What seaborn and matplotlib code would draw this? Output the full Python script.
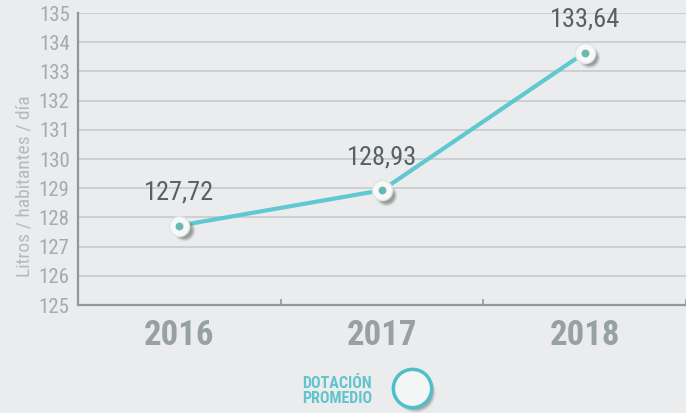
import numpy as np
import pandas as pd
import seaborn as sns
import matplotlib.pyplot as plt

years = ['2016', '2017', '2018']
dotacion = [127.72, 128.93, 133.64]
labels = ['127,72', '128,93', '133,64']
y_ticks = list(range(125, 136))

bg = '#ebecee'
teal = '#5fc8d0'

sns.set_theme(style='white')
plt.rcParams['font.family'] = ['Roboto Condensed', 'Liberation Sans Narrow', 'Roboto', 'DejaVu Sans']

df = pd.DataFrame({'year': years, 'value': dotacion, 'x': range(len(years))})

fig = plt.figure(figsize=(6.86, 4.13), dpi=100, facecolor=bg)
ax = fig.add_axes([0.1137, 0.2615, 0.8863, 0.707])
ax.set_facecolor(bg)

for y in y_ticks[1:]:
    ax.axhline(y, color='#c9cdcf', lw=1.3, zorder=0)

sns.lineplot(data=df, x='x', y='value', ax=ax, color=teal, lw=3, zorder=2)

# soft shadow, white knob, inner dot
for k, a in zip([0, 1, 2, 3, 4], [0.05, 0.07, 0.09, 0.12, 0.16]):
    ax.scatter(df['x'] + 0.022, df['value'] - 0.16, s=250 - k * 30, color='#2a2a2a',
               alpha=a, lw=0, zorder=3)
ax.scatter(df['x'], df['value'], s=210, color='#f7f8f8', edgecolor='#dfe3e4', lw=1, zorder=4)
ax.scatter(df['x'], df['value'], s=32, color='#6ab8b0', lw=0, zorder=5)

for xi, yi, t in zip(df['x'], df['value'], labels):
    ax.text(xi, yi + 0.72, t, ha='center', va='bottom', fontsize=19, color='#56625f')

ax.set_xlim(-0.5, 2.5)
ax.set_ylim(125, 135)
ax.set_yticks(y_ticks)
ax.set_yticklabels([str(v) for v in y_ticks], fontsize=15, color='#a3acab')
ax.set_xticks(df['x'])
ax.set_xticklabels(years, fontsize=25, fontweight='bold', color='#97a1a1')
ax.set_xticks([0.5, 1.5, 2.5], minor=True)
ax.tick_params(axis='x', which='major', length=0, pad=10)
ax.tick_params(axis='x', which='minor', direction='in', length=4, width=1.2, color='#8f999a',
               bottom=True)
ax.tick_params(axis='y', length=0, pad=6)
ax.set_xlabel('')
ax.set_ylabel('Litros / habitantes / día', fontsize=14, color='#b3bbba')
ax.yaxis.set_label_coords(-0.074, 0.408)

for s in ['top', 'right']:
    ax.spines[s].set_visible(False)
for s in ['left', 'bottom']:
    ax.spines[s].set_color('#8f999a')
    ax.spines[s].set_linewidth(1.6)

# legend
fig.text(0.44, 0.053, 'DOTACIÓN\nPROMEDIO', fontsize=11.5, fontweight='bold', color='#62c4cc',
         ha='left', va='center', linespacing=1.0)
leg = fig.add_axes([0.56, 0.0, 0.08, 0.12])
leg.set_xlim(-1, 1)
leg.set_ylim(-1, 1)
leg.axis('off')
for k, a in zip([0, 1, 2, 3, 4], [0.04, 0.06, 0.08, 0.1, 0.13]):
    leg.scatter([0.14], [-0.16], s=860 - k * 60, color='#2a2a2a', alpha=a, lw=0)
leg.scatter([0], [0], s=760, color='#f4f6f6', edgecolor='#4fbfc8', lw=2.5)

fig.savefig('out.png', dpi=100, facecolor=bg)
